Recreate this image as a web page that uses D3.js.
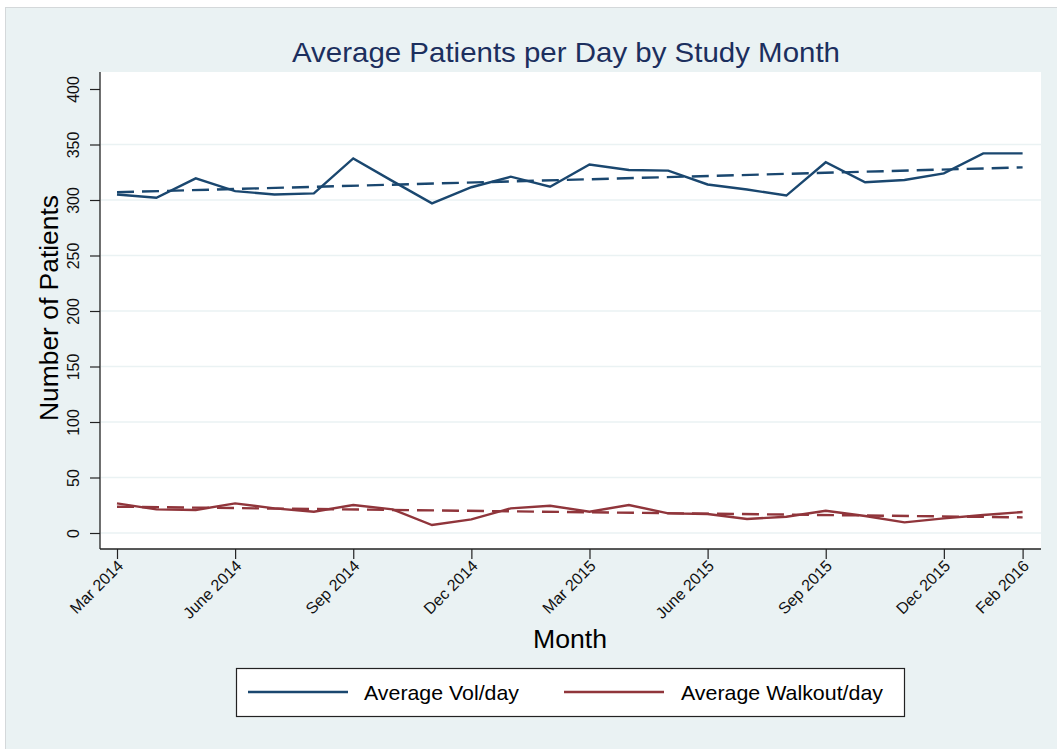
<!DOCTYPE html>
<html>
<head>
<meta charset="utf-8">
<script src="https://cdn.jsdelivr.net/npm/d3@7"></script>
<style>
  html, body { margin: 0; padding: 0; background: #ffffff; }
  svg { display: block; font-family: "Liberation Sans", Arial, sans-serif; }
</style>
</head>
<body>
<script>
// ---- data ----
const months = ["Mar 2014","Apr 2014","May 2014","June 2014","Jul 2014","Aug 2014","Sep 2014","Oct 2014","Nov 2014","Dec 2014",
                "Jan 2015","Feb 2015","Mar 2015","Apr 2015","May 2015","June 2015","Jul 2015","Aug 2015","Sep 2015","Oct 2015",
                "Nov 2015","Dec 2015","Jan 2016","Feb 2016"];
const volPerDay = [305, 302, 319.5, 308, 305, 306, 337.5, 317, 297, 311.5,
                   321, 312, 332, 327, 326.5, 314, 309.5, 304, 334, 316,
                   318, 324, 342, 342];
const walkoutPerDay = [26.7, 21.3, 20.7, 26.7, 22.2, 19.2, 25.2, 21.3, 7.2, 12.3,
                       22.2, 24.6, 19.2, 25.2, 17.7, 17.1, 12.6, 14.7, 20.1, 15.3,
                       9.6, 13.2, 16.2, 18.9];
// fitted trend lines (values at first and last month)
const volTrend = [307, 329.4];
const walkoutTrend = [23.7, 14.1];
const xTickLabels = ["Mar 2014","June 2014","Sep 2014","Dec 2014","Mar 2015","June 2015","Sep 2015","Dec 2015","Feb 2016"];
const yTicks = [0, 50, 100, 150, 200, 250, 300, 350, 400];
const gridTicks = [0, 50, 100, 150, 200, 250, 300, 350];
const legendLabels = ["Average Vol/day", "Average Walkout/day"];

// ---- layout ----
const W = 1057, H = 749;
const bg = "#eaf2f3";
const navy = "#1a476f", maroon = "#90353b";
const plot = { left: 100, right: 1041, top: 72, bottom: 549 };

const svg = d3.select("body").append("svg").attr("width", W).attr("height", H);

// graph region
svg.append("rect").attr("x", 5.5).attr("y", 7.5).attr("width", W - 5).attr("height", H - 7)
  .attr("fill", bg).attr("stroke", "#d4d8da").attr("stroke-width", 1);

// plot region
svg.append("rect").attr("x", plot.left).attr("y", plot.top)
  .attr("width", plot.right - plot.left).attr("height", plot.bottom - plot.top).attr("fill", "#ffffff");

const x = d3.scalePoint().domain(months).range([117, 1022.6]);
const y = d3.scaleLinear().domain([0, 400]).range([533, 89]);

// gridlines
svg.append("g").selectAll("line").data(gridTicks).join("line")
  .attr("x1", plot.left + 1).attr("x2", plot.right)
  .attr("y1", d => y(d)).attr("y2", d => y(d))
  .attr("stroke", bg).attr("stroke-width", 1.6);

// y axis
const yAxis = svg.append("g").attr("transform", `translate(${plot.left},0)`)
  .call(d3.axisLeft(y).tickValues(yTicks).tickSize(10).tickSizeOuter(0).tickFormat(d3.format("d")));
yAxis.select(".domain").remove();
svg.append("line").attr("x1", plot.left).attr("x2", plot.left).attr("y1", plot.top).attr("y2", plot.bottom)
  .attr("stroke", "#222").attr("stroke-width", 1.3);
yAxis.selectAll(".tick line").attr("stroke", "#222").attr("stroke-width", 1.2);
yAxis.selectAll(".tick text")
  .attr("x", null).attr("dy", null)
  .attr("transform", "translate(-27,0) rotate(-90)")
  .attr("text-anchor", "middle").attr("dominant-baseline", "central")
  .attr("font-size", 16).attr("fill", "#111")
  .style("font-family", "'Liberation Sans', Arial, sans-serif");

// x axis
const xAxis = svg.append("g").attr("transform", `translate(0,${plot.bottom})`)
  .call(d3.axisBottom(x).tickValues(xTickLabels).tickSize(10).tickSizeOuter(0));
xAxis.select(".domain").remove();
svg.append("line").attr("x1", plot.left).attr("x2", plot.right).attr("y1", plot.bottom).attr("y2", plot.bottom)
  .attr("stroke", "#222").attr("stroke-width", 1.3);
xAxis.selectAll(".tick line").attr("stroke", "#222").attr("stroke-width", 1.2);
xAxis.selectAll(".tick text")
  .attr("y", null).attr("dy", null)
  .attr("transform", "translate(3,14) rotate(-45)")
  .attr("text-anchor", "end").attr("dominant-baseline", "central")
  .attr("font-size", 16).attr("fill", "#111")
  .style("font-family", "'Liberation Sans', Arial, sans-serif");

// series
const line = d3.line().x((d, i) => x(months[i])).y(d => y(d));
svg.append("path").datum(volPerDay).attr("d", line)
  .attr("fill", "none").attr("stroke", navy).attr("stroke-width", 2.4).attr("stroke-linejoin", "miter");
svg.append("path").datum(walkoutPerDay).attr("d", line)
  .attr("fill", "none").attr("stroke", maroon).attr("stroke-width", 2.4).attr("stroke-linejoin", "miter");

// trend lines
const trendIdx = [0, months.length - 1];
const tline = d3.line().x((d, i) => x(months[trendIdx[i]])).y(d => y(d));
svg.append("path").datum(volTrend).attr("d", tline)
  .attr("fill", "none").attr("stroke", navy).attr("stroke-width", 2.4).attr("stroke-dasharray", "17,8");
svg.append("path").datum(walkoutTrend).attr("d", tline)
  .attr("fill", "none").attr("stroke", maroon).attr("stroke-width", 2.4).attr("stroke-dasharray", "17,8");

// title
svg.append("text").attr("x", 566).attr("y", 62).attr("text-anchor", "middle")
  .attr("font-size", 28).attr("fill", "#1c2f5e")
  .attr("textLength", 548).attr("lengthAdjust", "spacingAndGlyphs")
  .text("Average Patients per Day by Study Month");

// axis titles
svg.append("text").attr("transform", "translate(58,308) rotate(-90)").attr("text-anchor", "middle")
  .attr("font-size", 26).attr("fill", "#000")
  .attr("textLength", 226).attr("lengthAdjust", "spacingAndGlyphs")
  .text("Number of Patients");
svg.append("text").attr("x", 570).attr("y", 648).attr("text-anchor", "middle")
  .attr("font-size", 26).attr("fill", "#000")
  .attr("textLength", 74).attr("lengthAdjust", "spacingAndGlyphs")
  .text("Month");

// legend
const lg = svg.append("g");
lg.append("rect").attr("x", 236.5).attr("y", 668.5).attr("width", 668).attr("height", 48)
  .attr("fill", "#ffffff").attr("stroke", "#222").attr("stroke-width", 1.2);
const legendItems = [
  { label: legendLabels[0], color: navy, x0: 248, tx: 364, len: 155 },
  { label: legendLabels[1], color: maroon, x0: 564, tx: 681, len: 202 }
];
legendItems.forEach(it => {
  lg.append("line").attr("x1", it.x0).attr("x2", it.x0 + 100).attr("y1", 692).attr("y2", 692)
    .attr("stroke", it.color).attr("stroke-width", 2.4);
  lg.append("text").attr("x", it.tx).attr("y", 700).attr("font-size", 21).attr("fill", "#000")
    .attr("textLength", it.len).attr("lengthAdjust", "spacingAndGlyphs")
    .text(it.label);
});
</script>
</body>
</html>
